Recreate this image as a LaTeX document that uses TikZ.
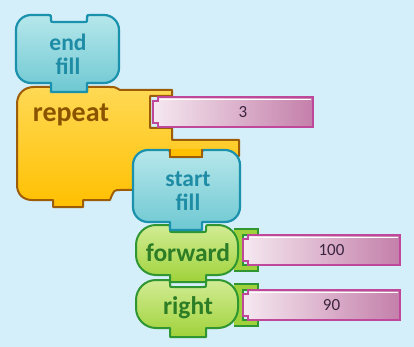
\documentclass[tikz,border=0pt]{standalone}
\usepackage{fontspec}
\setmainfont{Carlito}
\definecolor{bgblue}{HTML}{D4EEFA}
\definecolor{tealfill}{HTML}{6EC8D2}
\definecolor{teallight}{HTML}{B6E7EB}
\definecolor{tealline}{HTML}{1A92AD}
\definecolor{tealtext}{HTML}{1F8CA6}
\definecolor{orangefill}{HTML}{FFC000}
\definecolor{orangelight}{HTML}{FFD955}
\definecolor{brownline}{HTML}{9C5C08}
\definecolor{browntext}{HTML}{8A5300}
\definecolor{greenfill}{HTML}{9FD23A}
\definecolor{greenlight}{HTML}{D2EC94}
\definecolor{greenline}{HTML}{2F9632}
\definecolor{greentext}{HTML}{2C7D25}
\definecolor{pinkleft}{HTML}{F5E8F0}
\definecolor{pinkright}{HTML}{C47FAA}
\definecolor{pinkline}{HTML}{C0489B}
\definecolor{numcolor}{HTML}{3B2540}

\tikzset{
  tealblock/.style={draw=tealline, line width=2.2pt, line join=round, top color=teallight, bottom color=tealfill},
  greenblock/.style={draw=greenline, line width=2pt, line join=round, top color=greenlight, bottom color=greenfill},
  orangeblock/.style={draw=brownline, line width=2pt, line join=round, top color=orangelight, bottom color=orangefill},
  greensocket/.style={draw=greenline, line width=1.2pt, fill=greenfill},
  inbox/.style={draw=pinkline, line width=1.2pt, left color=pinkleft, right color=pinkright},
  blocktext/.style={font=\bfseries\fontsize{25.5}{22}\selectfont, align=center, inner sep=0pt},
  twolines/.style={font=\bfseries\fontsize{23.5}{24}\selectfont},
  numtext/.style={font=\fontsize{17}{17}\selectfont, text=numcolor, inner sep=0pt}
}

% cup shaped block: x1, y1, x2, y2, radius, notch left, notch right, tab bottom, style
\newcommand{\cupblock}[9]{%
  \path[#9] (#1,{#2+#5}) .. controls (#1,{#2+#5*0.45}) and ({#1+#5*0.45},#2) .. ({#1+#5},#2)
    -- ({#6-3},#2) .. controls (#6,#2) .. (#6,{#2+3}) -- (#6,{#2+5})
    .. controls (#6,{#2+7}) .. ({#6+3},{#2+7}) -- ({#7-3},{#2+7})
    .. controls (#7,{#2+7}) .. (#7,{#2+5}) -- (#7,{#2+3})
    .. controls (#7,#2) .. ({#7+3},#2) -- ({#3-#5},#2)
    .. controls ({#3-#5*0.45},#2) and (#3,{#2+#5*0.45}) .. (#3,{#2+#5}) -- (#3,{#4-#5})
    .. controls (#3,{#4-#5*0.45}) and ({#3-#5*0.45},#4) .. ({#3-#5},#4)
    -- (#7,#4) -- (#7,#8) -- (#6,#8) -- (#6,#4) -- ({#1+#5},#4)
    .. controls ({#1+#5*0.45},#4) and (#1,{#4-#5*0.45}) .. (#1,{#4-#5}) -- cycle;}

% value box: name, x1, y1, x2, y2, text
\newcommand{\valuebox}[6]{%
  \path[inbox] (#2,{#3+4}) -- ({#2+5},{#3+4}) -- ({#2+5},#3) -- (#4,#3)
    -- (#4,#5) -- ({#2+5},#5) -- ({#2+5},{#5-4}) -- (#2,{#5-4}) -- cycle;
  \draw[white, line width=1.2pt] ({#2+7},{#3+2.5}) -- ({#4-2},{#3+2.5});
  \node[numtext] (#1) at ({(#2+#4)/2+10},{(#3+#5)/2}) {#6};}

\begin{document}
\begin{tikzpicture}[x=1pt,y=-1pt]
  \useasboundingbox[fill=bgblue] (0,0) rectangle (414,347);

  % right block with its value
  \path[greensocket] (234,284) -- (258,284) -- (258,290) -- (243,290)
    -- (243,320) -- (258,320) -- (258,326) -- (234,326);
  \cupblock{136}{280}{238}{328}{20}{170}{206}{337}{greenblock}
  \node[blocktext, text=greentext] (right) at (188,308) {right};
  \valuebox{rightval}{243}{290}{400}{320}{90}

  % forward block with its value
  \path[greensocket] (234,229) -- (258,229) -- (258,235) -- (243,235)
    -- (243,265) -- (258,265) -- (258,271) -- (234,271);
  \cupblock{136}{225}{238}{275}{20}{170}{206}{282}{greenblock}
  \node[blocktext, text=greentext] (forward) at (188,253) {forward};
  \valuebox{forwardval}{243}{235}{400}{265}{100}

  % repeat block
  \path[orangeblock] (17,104) .. controls (17,94) and (24,87) .. (34,87) -- (52,87) -- (52,92)
    -- (87,92) -- (87,87) -- (110,87) .. controls (115,87) .. (120,90)
    -- (172,90) -- (172,96) -- (150,96) -- (150,128) -- (172,128) -- (172,140)
    -- (239,140) -- (239,156) -- (150,156) -- (150,190) -- (120,190)
    .. controls (114,190) .. (110,200) -- (83,200) -- (83,207) -- (53,207)
    -- (53,200) -- (32,200) .. controls (23,200) and (17,194) .. (17,185) -- cycle;
  \node[blocktext, font=\bfseries\fontsize{28}{22}\selectfont, text=browntext] (repeat) at (71,115) {repeat};
  \valuebox{repeatval}{153}{97}{313}{127}{3}

  % start fill block inside repeat
  \cupblock{133}{150}{240}{222}{15}{170}{202}{230}{tealblock}
  \path[draw=brownline, line width=2pt, fill=orangefill] (170,149) -- (170,157) -- (202,157) -- (202,149);
  \node[blocktext, twolines, text=tealtext] (startfill) at (188,191) {start\\fill};

  % end fill block on top
  \cupblock{16}{15}{119}{83}{15}{51}{87}{92}{tealblock}
  \node[blocktext, twolines, text=tealtext] (endfill) at (68,54) {end\\fill};
\end{tikzpicture}
\end{document}
